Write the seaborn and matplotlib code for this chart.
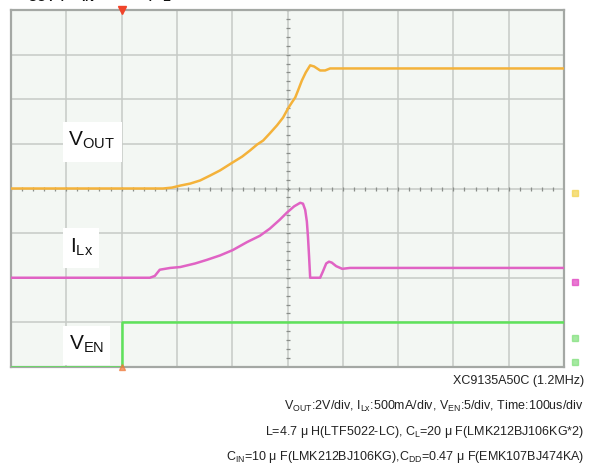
"""Start-up waveform of the XC9135A50C, redrawn as a scope screen (10 x 8 div)."""

import matplotlib

matplotlib.use("Agg")
import matplotlib.pyplot as plt  # noqa: E402
import numpy as np  # noqa: E402
import pandas as pd  # noqa: E402
import seaborn as sns  # noqa: E402
from matplotlib.patches import Rectangle  # noqa: E402

# --- data (time in us, 100 us/div) ---
vout_t = [0, 275, 291, 306, 324, 342, 360, 378, 401, 418, 432, 445, 456, 468, 481,
          492, 501, 508, 514, 519, 526, 533, 541, 548, 559, 568, 577, 1000]
vout_v = [0, 0, 0.04, 0.13, 0.22, 0.36, 0.58, 0.81, 1.17, 1.43, 1.70, 1.97, 2.15, 2.47, 2.83,
          3.18, 3.59, 3.86, 4.08, 4.39, 4.84, 5.20, 5.52, 5.47, 5.29, 5.29, 5.38, 5.38]

il_t = [0, 251, 260, 269, 288, 306, 333, 354, 378, 401, 427, 450, 468, 486, 499, 512,
        523, 528, 532, 535, 537, 539, 541, 559, 564, 570, 575, 580, 588, 599, 613, 1000]
il_a = [0, 0, 0.02, 0.09, 0.11, 0.12, 0.16, 0.20, 0.25, 0.31, 0.40, 0.47, 0.55, 0.65, 0.73, 0.80,
        0.84, 0.83, 0.76, 0.63, 0.46, 0.24, 0.0, 0.0, 0.07, 0.16, 0.18, 0.17, 0.13, 0.10, 0.11, 0.11]

ven_t = [0, 200, 200, 1000]
ven_v = [0, 0, 5, 5]

# channel settings: (units per div, ground position in div from bottom, colour)
CH = {
    "VOUT": (2.0, 4.0, "#f4b23a"),
    "ILX": (0.5, 2.0, "#e063c4"),
    "VEN": (5.0, 0.0, "#5ee25a"),
}

sns.set_theme(style="white")
plt.rcParams["font.family"] = ["Liberation Sans", "DejaVu Sans"]
plt.rcParams["mathtext.fontset"] = "custom"
plt.rcParams["mathtext.rm"] = "Liberation Sans"
plt.rcParams["mathtext.it"] = "Liberation Sans"
plt.rcParams["mathtext.bf"] = "Liberation Sans:bold"
plt.rcParams["mathtext.default"] = "regular"

W, H = 592, 468
fig = plt.figure(figsize=(W / 100, H / 100), dpi=100)
fig.patch.set_facecolor("white")
ax = fig.add_axes([11 / W, 1 - 367 / H, 553 / W, 357 / H])
ax.set_facecolor("#f3f7f3")

ax.set_xlim(0, 1000)
ax.set_ylim(0, 8)
ax.set_xticks(np.arange(0, 1001, 100))
ax.set_yticks(np.arange(0, 9, 1))
ax.tick_params(length=0, labelbottom=False, labelleft=False)
ax.grid(True, color="#c6cac6", lw=1.1)
ax.set_axisbelow(True)
for s in ax.spines.values():
    s.set_color("#a4a8a4")
    s.set_linewidth(1.6)

# centre-line graticule ticks (0.2 div)
tx = np.arange(0, 1001, 20)
ax.plot(tx, np.full_like(tx, 4.0, dtype=float), ls="none", marker="|", ms=3.5,
        color="#8a8e8a", mew=0.9, zorder=1)
ty = np.arange(0, 8.01, 0.2)
ax.plot(np.full_like(ty, 500.0), ty, ls="none", marker="_", ms=3.5,
        color="#8a8e8a", mew=0.9, zorder=1)

frames = []
for name, t, v in [("VOUT", vout_t, vout_v), ("ILX", il_t, il_a), ("VEN", ven_t, ven_v)]:
    scale, gnd, _ = CH[name]
    d = pd.DataFrame({"t": t, "val": v})
    d["div"] = gnd + d["val"] / scale
    d["ch"] = name
    frames.append(d)
df = pd.concat(frames, ignore_index=True)

for name in ["VEN", "ILX", "VOUT"]:
    sub = df[df["ch"] == name]
    sns.lineplot(data=sub, x="t", y="div", estimator=None, sort=False,
                 color=CH[name][2], lw=1.8, ax=ax, zorder=3)
ax.set_xlabel("")
ax.set_ylabel("")

# trigger markers
ax.plot([200], [8], marker="v", ms=6, color="#f0442a", clip_on=False, zorder=5)
ax.plot([200], [0], marker="^", ms=4, color="#f07a3a", clip_on=False, zorder=5, alpha=0.7)

# channel ground markers on the right
for yv, col in [(3.9, "#f2d24a"), (1.9, "#e040c0"), (0.65, "#7fe07a"), (0.12, "#7fe07a")]:
    ax.plot([1019], [yv], marker="s", ms=5, color=col, alpha=0.7, clip_on=False)

# trace labels on white boxes
boxes = [
    (94, 4.60, 107, 0.89, r"$V_{OUT}$", 103, 4.96),
    (94, 2.22, 65, 0.90, r"$I_{Lx}$", 107, 2.56),
    (94, 0.05, 85, 0.87, r"$V_{EN}$", 105, 0.38),
]
for x0, y0, w, h, txt, tx0, ty0 in boxes:
    ax.add_patch(Rectangle((x0, y0), w, h, facecolor="white", edgecolor="none", zorder=4))
    ax.text(tx0, ty0, txt, fontsize=15, color="#111111", va="baseline", ha="left", zorder=5)

# header line cut by the top edge of the picture (only its lower edge shows)
fig.text(15 / W, 1 + 2 / H, r"$\mathbf{V_{OUT}}$ , $\mathbf{V_{IN}}$=3.6V , $\mathbf{I_{L}}$",
         fontsize=13, fontweight="bold", va="baseline", ha="left", color="#111111")

notes = [
    "XC9135A50C (1.2MHz)",
    r"$V_{OUT}$:2V/div, $I_{Lx}$:500mA/div, $V_{EN}$:5/div, Time:100us/div",
    r"L=4.7 μ H(LTF5022-LC), $C_{L}$=20 μ F(LMK212BJ106KG*2)",
    r"$C_{IN}$=10 μ F(LMK212BJ106KG),$C_{DD}$=0.47 μ F(EMK107BJ474KA)",
]
for i, line in enumerate(notes):
    fig.text(584 / W, 1 - (381 + 25.3 * i) / H, line, fontsize=9, ha="right",
             va="center", color="#222222")

fig.savefig("out.png", dpi=100)
